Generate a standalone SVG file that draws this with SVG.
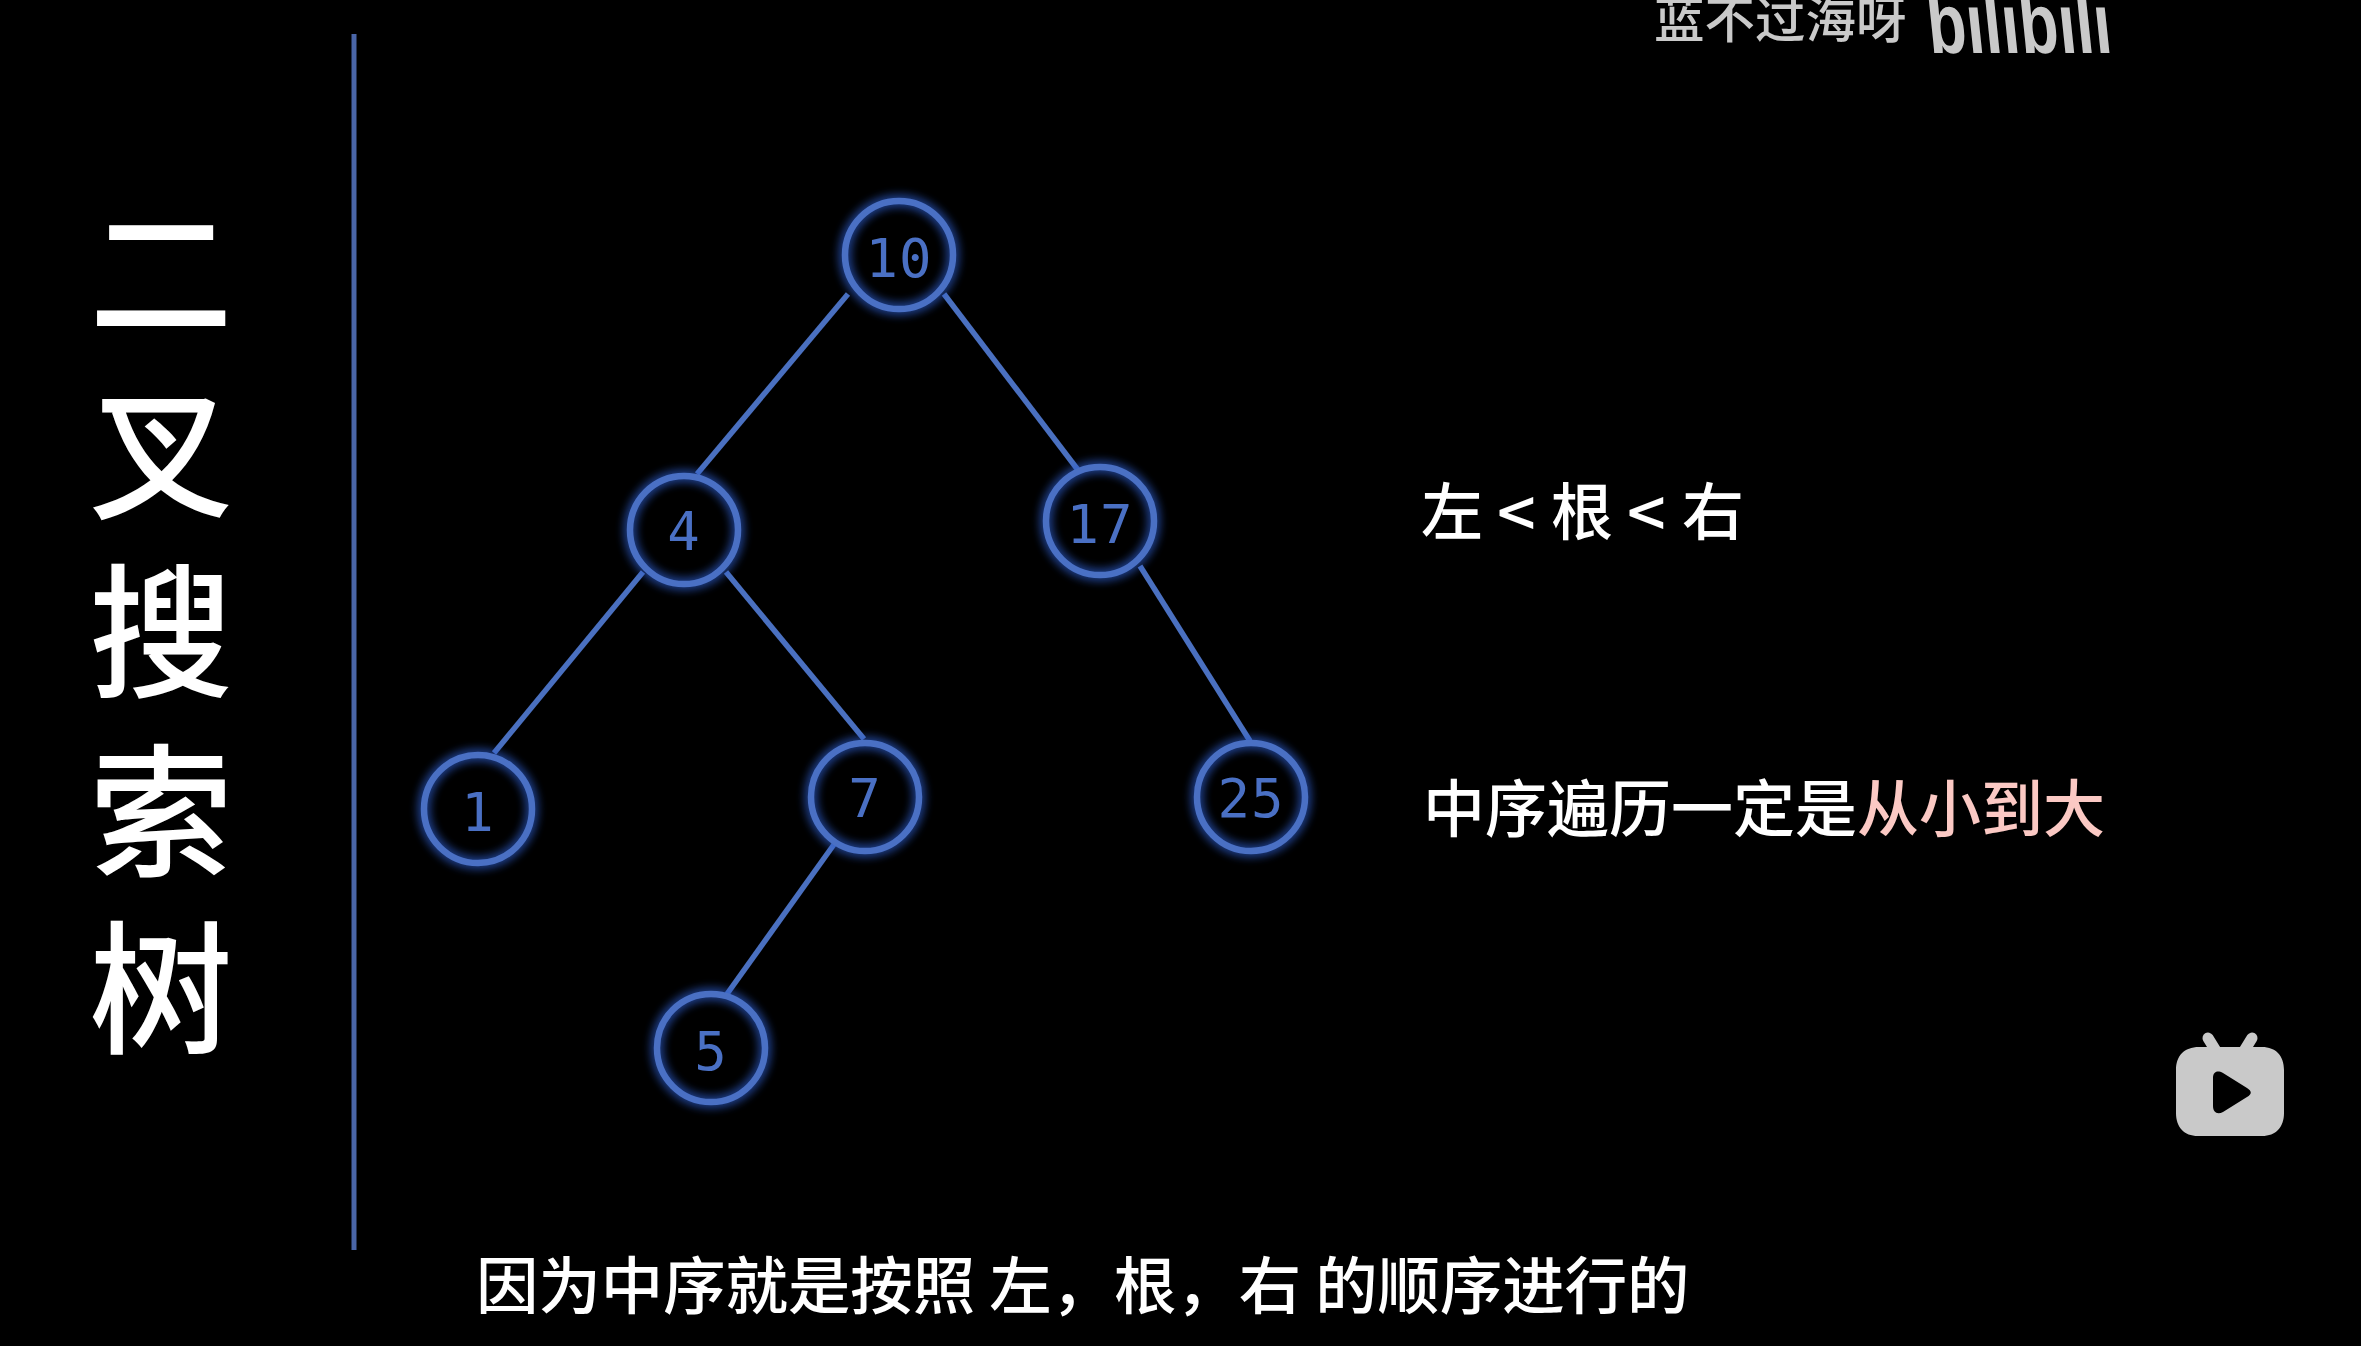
<svg xmlns="http://www.w3.org/2000/svg" width="2361" height="1346" viewBox="0 0 2361 1346">
<defs>
<style>
text{font-family:"Noto Sans CJK SC","Liberation Sans",sans-serif}
.ring{fill:none;stroke:#4a70c4;stroke-width:6.5}
.halo{fill:none;stroke:#2f5fd0;stroke-width:13;opacity:.65;filter:url(#glow)}
.num{font-family:"DejaVu Sans Mono",monospace;font-size:54px;letter-spacing:1px;fill:#4a70c4;text-anchor:middle}
.edge{stroke:#4a70c0;stroke-width:5.5;fill:none}
.title{font-size:144px;fill:#fff;text-anchor:middle;font-weight:500}
.cap{font-size:62px;fill:#fff;font-weight:500}
.lt{font-size:68px;fill:#fff;font-weight:500}
.sub{font-size:62.4px;fill:#fff;font-weight:500}
.mark{fill:#c9c9c9}
</style>
<filter id="glow" x="-30%" y="-30%" width="160%" height="160%"><feGaussianBlur stdDeviation="4"/></filter>
</defs>
<rect width="2361" height="1346" fill="#000"/>
<line x1="354" y1="34" x2="354" y2="1250" stroke="#4a66a8" stroke-width="5"/>
<g id="title">
<text class="title"><tspan x="161" y="327">二</tspan><tspan x="161" y="508">叉</tspan><tspan x="161" y="686">搜</tspan><tspan x="161" y="866">索</tspan><tspan x="161" y="1043">树</tspan></text>
</g>
<g id="connectors">
<line class="edge" x1="848" y1="294" x2="697" y2="474"/>
<line class="edge" x1="944" y1="294" x2="1078" y2="470"/>
<line class="edge" x1="643" y1="572" x2="494" y2="753"/>
<line class="edge" x1="726" y1="572" x2="864" y2="739"/>
<line class="edge" x1="1140" y1="566" x2="1250" y2="741"/>
<line class="edge" x1="835" y1="843" x2="727" y2="994"/>
</g>
<g id="node-10"><circle class="halo" cx="899" cy="255" r="54"/><circle class="ring" cx="899" cy="255" r="54"/><text class="num" x="899" y="277">10</text></g>
<g id="node-4"><circle class="halo" cx="684" cy="530" r="54"/><circle class="ring" cx="684" cy="530" r="54"/><text class="num" x="684" y="550">4</text></g>
<g id="node-17"><circle class="halo" cx="1100" cy="521" r="54"/><circle class="ring" cx="1100" cy="521" r="54"/><text class="num" x="1100" y="543">17</text></g>
<g id="node-1"><circle class="halo" cx="478" cy="809" r="54"/><circle class="ring" cx="478" cy="809" r="54"/><text class="num" x="478" y="831">1</text></g>
<g id="node-7"><circle class="halo" cx="865" cy="797" r="54"/><circle class="ring" cx="865" cy="797" r="54"/><text class="num" x="865" y="817">7</text></g>
<g id="node-25"><circle class="halo" cx="1251" cy="797" r="54"/><circle class="ring" cx="1251" cy="797" r="54"/><text class="num" x="1251" y="817">25</text></g>
<g id="node-5"><circle class="halo" cx="711" cy="1048" r="54"/><circle class="ring" cx="711" cy="1048" r="54"/><text class="num" x="711" y="1070">5</text></g>
<g id="labels">
<text class="cap" x="1421" y="535">左</text>
<text class="lt" x="1497" y="538">&lt;</text>
<text class="cap" x="1551" y="535">根</text>
<text class="lt" x="1627" y="538">&lt;</text>
<text class="cap" x="1682" y="535">右</text>
<text class="cap" x="1423" y="832">中序遍历一定是<tspan fill="#fbc9c4">从小到大</tspan></text>
<text class="sub" x="476" y="1309">因为中序就是按照 左，根，右 的顺序进行的</text>
</g>
<g id="watermark">
<text class="mark" x="1654" y="38" style="font-size:50.5px;font-weight:500">蓝不过海呀</text>
<text class="mark" x="0" y="0" textLength="184" lengthAdjust="spacingAndGlyphs" style="font-family:'Liberation Sans',sans-serif;font-weight:700;font-size:86px" transform="translate(1930 53) skewX(6)">bilibili</text>
</g>
<g id="tv-icon">
<line x1="2208" y1="1038" x2="2216" y2="1051" stroke="#c9c9c9" stroke-width="11" stroke-linecap="round"/>
<line x1="2252" y1="1038" x2="2244" y2="1051" stroke="#c9c9c9" stroke-width="11" stroke-linecap="round"/>
<path class="mark" fill-rule="evenodd" d="M2199 1047H2262C2276 1047 2284 1056 2284 1070V1113C2284 1127 2276 1136 2262 1136H2198C2184 1136 2176 1127 2176 1113V1070C2176 1056 2184 1047 2199 1047ZM2213 1078V1106C2213 1112 2217 1115 2223 1112L2247 1097C2252 1094 2252 1091 2247 1088L2223 1073C2217 1070 2213 1072 2213 1078Z"/>
</g>
</svg>
